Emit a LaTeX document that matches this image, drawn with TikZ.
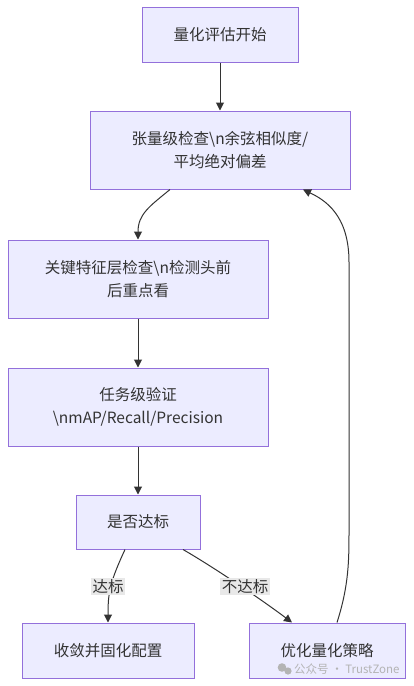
\documentclass[tikz,border=0pt]{standalone}
\usepackage{fontspec}
\setmainfont{Noto Sans CJK SC}
\usetikzlibrary{arrows.meta}
\definecolor{boxfill}{HTML}{ECECFF}
\definecolor{boxline}{HTML}{9370DB}
\definecolor{txt}{HTML}{333333}
\definecolor{lblbg}{HTML}{E8E8E8}
\definecolor{wm}{HTML}{B4B4B4}
\tikzset{
  box/.style={draw=boxline, fill=boxfill, line width=1pt, text=txt, align=center,
    font=\fontsize{15.5}{23}\selectfont, inner sep=0pt},
  arr/.style={draw=txt, line width=1pt, -{Triangle[length=8pt,width=8pt]}},
  lbl/.style={fill=lblbg, text=txt, font=\fontsize{15.5}{18}\selectfont, inner sep=1.5pt}
}
\begin{document}
\begin{tikzpicture}[x=1pt,y=-1pt]
\useasboundingbox (0,0) rectangle (414,686);
\node[box, minimum width=156pt, minimum height=55pt] (b1) at (220,34.5) {量化评估开始};
\node[box, minimum width=260pt, minimum height=78pt] (b2) at (220,150) {张量级检查\textbackslash n余弦相似度/\\平均绝对偏差};
\node[box, minimum width=260pt, minimum height=78pt] (b3) at (138,279) {关键特征层检查\textbackslash n检测头前\\后重点看};
\node[box, minimum width=260pt, minimum height=78pt] (b4) at (138,407) {任务级验证\\\textbackslash nmAP/Recall/Precision};
\node[box, minimum width=124pt, minimum height=54pt] (b5) at (138,522) {是否达标};
\node[box, minimum width=172pt, minimum height=55pt] (b6) at (108,650.5) {收敛并固化配置};
\node[box, minimum width=156pt, minimum height=55pt] (b7) at (327,650.5) {优化量化策略};

\coordinate (b2l) at ([xshift=-50pt]b2.south);
\coordinate (b2r) at ([xshift=83pt]b2.south);
\coordinate (b5l) at ([xshift=-13pt]b5.south);
\coordinate (b5r) at ([xshift=45pt]b5.south);
\coordinate (b7n) at ([xshift=-35pt]b7.north);
\coordinate (b7u) at ([xshift=10pt]b7.north);

\draw[arr] (b1) -- (b2);
\draw[arr] (b2l) .. controls (150,206) and (138,214) .. (b3.north);
\draw[arr] (b3) -- (b4);
\draw[arr] (b4) -- (b5);
\draw[arr] (b5l) .. controls (110,582) and (108,592) .. (b6.north);
\draw[arr] (b5r) .. controls (215,568) and (262,600) .. (b7n);
\draw[arr] (b7u) .. controls (349,585) and (349,560) .. (349,530) -- (349,262) .. controls (349,215) and (325,200) .. (b2r);

\node[lbl] (l1) at (108,586.5) {达标};
\node[lbl] (l2) at (245,586.5) {不达标};

% watermark
\fill[wm] (282,667.5) circle (4.3pt);
\fill[wm] (288,671) circle (3.6pt);
\node[text=wm, font=\fontsize{11.5}{13}\selectfont, anchor=west, inner sep=0pt] (wmt) at (294,669) {公众号 · TrustZone};
\end{tikzpicture}
\end{document}
